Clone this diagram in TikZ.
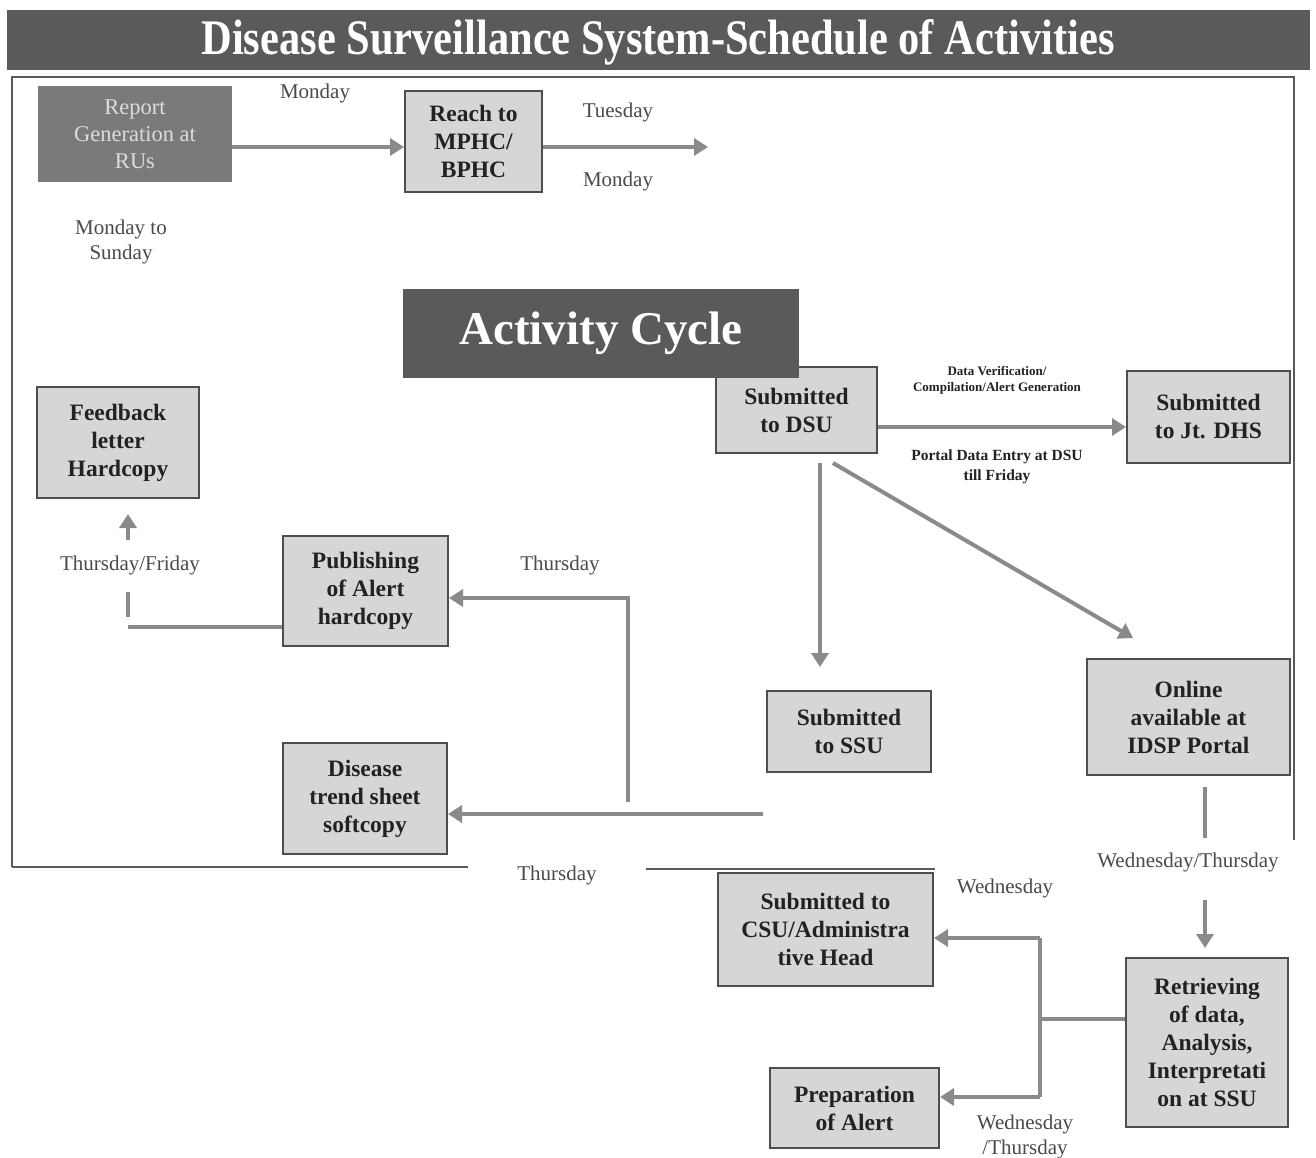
\documentclass[tikz,border=0pt]{standalone}
\usepackage{fontspec}
\setmainfont{Liberation Serif}
\usetikzlibrary{arrows.meta}

\definecolor{barfill}{HTML}{5A5A5A}
\definecolor{darkfill}{HTML}{7A7A7A}
\definecolor{boxfill}{HTML}{D6D6D9}
\definecolor{boxline}{HTML}{4E4E52}
\definecolor{boxtext}{HTML}{222222}
\definecolor{arrowgray}{HTML}{8A8A8C}
\definecolor{daytext}{HTML}{4A4A4A}
\definecolor{frameline}{HTML}{5A5A5E}
\definecolor{palewhite}{HTML}{DCDCDC}

\newcommand{\bxfont}{\fontsize{23.5}{28}\selectfont\bfseries}
\newcommand{\dyfont}{\fontsize{21}{25}\selectfont}

\tikzset{
  box/.style={draw=boxline, line width=2pt, fill=boxfill, align=center,
    inner sep=0pt, font=\bxfont, text=boxtext},
  darkbox/.style={fill=darkfill, align=center, inner sep=0pt,
    font=\fontsize{22.5}{27}\selectfont, text=palewhite},
  arr/.style={draw=arrowgray, line width=4pt, -{Triangle[width=17pt,length=14pt]}},
  link/.style={draw=arrowgray, line width=4pt},
  day/.style={font=\dyfont, text=daytext, align=center, inner sep=0pt},
  frame/.style={draw=frameline, line width=2pt},
}

\begin{document}
\begin{tikzpicture}[x=1pt, y=-1pt]
\useasboundingbox[fill=white] (0,0) rectangle (1316,1157);

% title bar
\fill[barfill] (7,10) rectangle (1310,70);
\node[text=white, inner sep=0pt] (title) at (658,42)
  {\resizebox{913pt}{35pt}{\bfseries Disease Surveillance System-Schedule of Activities}};

% outer frame with a gap for the label at the bottom
\draw[frame] (12,867) -- (12,77) -- (1294,77) -- (1294,840);
\draw[frame] (12,867) -- (468,867);
\draw[frame] (646,869) -- (935,869);

% boxes
\node[darkbox, minimum width=194, minimum height=96] (rep) at (135,134)
  {Report\\Generation at\\RUs};
\node[box, minimum width=137, minimum height=101] (reach) at (473.5,141.5)
  {Reach to\\MPHC/\\BPHC};
\node[box, minimum width=161, minimum height=86] (dsu) at (796.5,410)
  {Submitted\\to DSU};
\node[fill=barfill, inner sep=0pt, minimum width=396, minimum height=89,
  text=white, font=\fontsize{47}{50}\selectfont\bfseries] (act) at (601,333.5)
  {Activity Cycle};
\node[box, minimum width=163, minimum height=92] (dhs) at (1208.5,417)
  {Submitted\\to Jt. DHS};
\node[box, minimum width=162, minimum height=111] (feed) at (118,442.5)
  {Feedback\\letter\\Hardcopy};
\node[box, minimum width=165, minimum height=110] (pub) at (365.5,591)
  {Publishing\\of Alert\\hardcopy};
\node[box, minimum width=164, minimum height=81] (ssu) at (849,731.5)
  {Submitted\\to SSU};
\node[box, minimum width=203, minimum height=116] (online) at (1188.5,717)
  {Online\\available at\\IDSP Portal};
\node[box, minimum width=164, minimum height=111] (trend) at (365,798.5)
  {Disease\\trend sheet\\softcopy};
\node[box, minimum width=215, minimum height=113] (csu) at (825.5,929.5)
  {Submitted to\\CSU/Administra\\tive Head};
\node[box, minimum width=169, minimum height=80] (prep) at (854.5,1108)
  {Preparation\\of Alert};
\node[box, minimum width=162, minimum height=169] (retr) at (1207,1042.5)
  {Retrieving\\of data,\\Analysis,\\Interpretati\\on at SSU};

% labels
\node[day] (lmon) at (315,93) {Monday};
\node[day] (ltue) at (618,112) {Tuesday};
\node[day] (lmon2) at (618,181) {Monday};
\node[day] (lweek) at (121,242) {Monday to\\Sunday};
\node[day, font=\fontsize{13}{16}\selectfont\bfseries, text=boxtext] (lver) at (997,380)
  {Data Verification/\\Compilation/Alert Generation};
\node[day, font=\fontsize{15.5}{20}\selectfont\bfseries, text=boxtext] (lport) at (997,467)
  {Portal Data Entry at DSU\\till Friday};
\node[day] (lthfr) at (130,565) {Thursday/Friday};
\node[day] (lthu1) at (560,565) {Thursday};
\node[day] (lthu2) at (557,875) {Thursday};
\node[day] (lwedth) at (1188,862) {Wednesday/Thursday};
\node[day] (lwed) at (1005,888) {Wednesday};
\node[day] (lwedth2) at (1025,1137) {Wednesday\\/Thursday};

% free ends of connectors
\coordinate (r147) at (0,147);
\coordinate (tueEnd) at (708,147);
\coordinate (r427) at (0,427);
\coordinate (ssuA) at (820,463);
\coordinate (ssuB) at (820,667);
\coordinate (diagA) at (833,463);
\coordinate (diagB) at (1133,638);
\coordinate (onA) at (1205,787);
\coordinate (onB) at (1205,838);
\coordinate (retA) at (1205,900);
\coordinate (retB) at (1205,948);
\coordinate (brX) at (1040,1019);
\coordinate (brTop) at (1040,938);
\coordinate (brBot) at (1040,1097);
\coordinate (trA) at (763,814);
\coordinate (pubA) at (628,802);
\coordinate (pubB) at (628,598);
\coordinate (fbA) at (128,627);
\coordinate (fbB) at (128,617);
\coordinate (fbC) at (128,592);
\coordinate (fbD) at (128,540);
\coordinate (fbE) at (128,514);

% connectors
\draw[arr] (rep.east |- r147) -- (reach.west |- r147);
\draw[arr] (reach.east |- r147) -- (tueEnd);
\draw[arr] (dsu.east |- r427) -- (dhs.west |- r427);
\draw[arr] (ssuA) -- (ssuB);
\draw[arr] (diagA) -- (diagB);
\draw[link] (onA) -- (onB);
\draw[arr] (retA) -- (retB);
\draw[link] (retr.west |- brX) -- (brX);
\draw[link] (brTop) -- (brBot);
\draw[arr] (brTop) -- (csu.east |- brTop);
\draw[arr] (brBot) -- (prep.east |- brBot);
\draw[arr] (trA) -- (trend.east |- trA);
\draw[arr] (pubA) -- (pubB) -- (pub.east |- pubB);
\draw[link] (pub.west |- fbA) -- (fbA);
\draw[link] (fbB) -- (fbC);
\draw[arr] (fbD) -- (fbE);
\end{tikzpicture}
\end{document}
